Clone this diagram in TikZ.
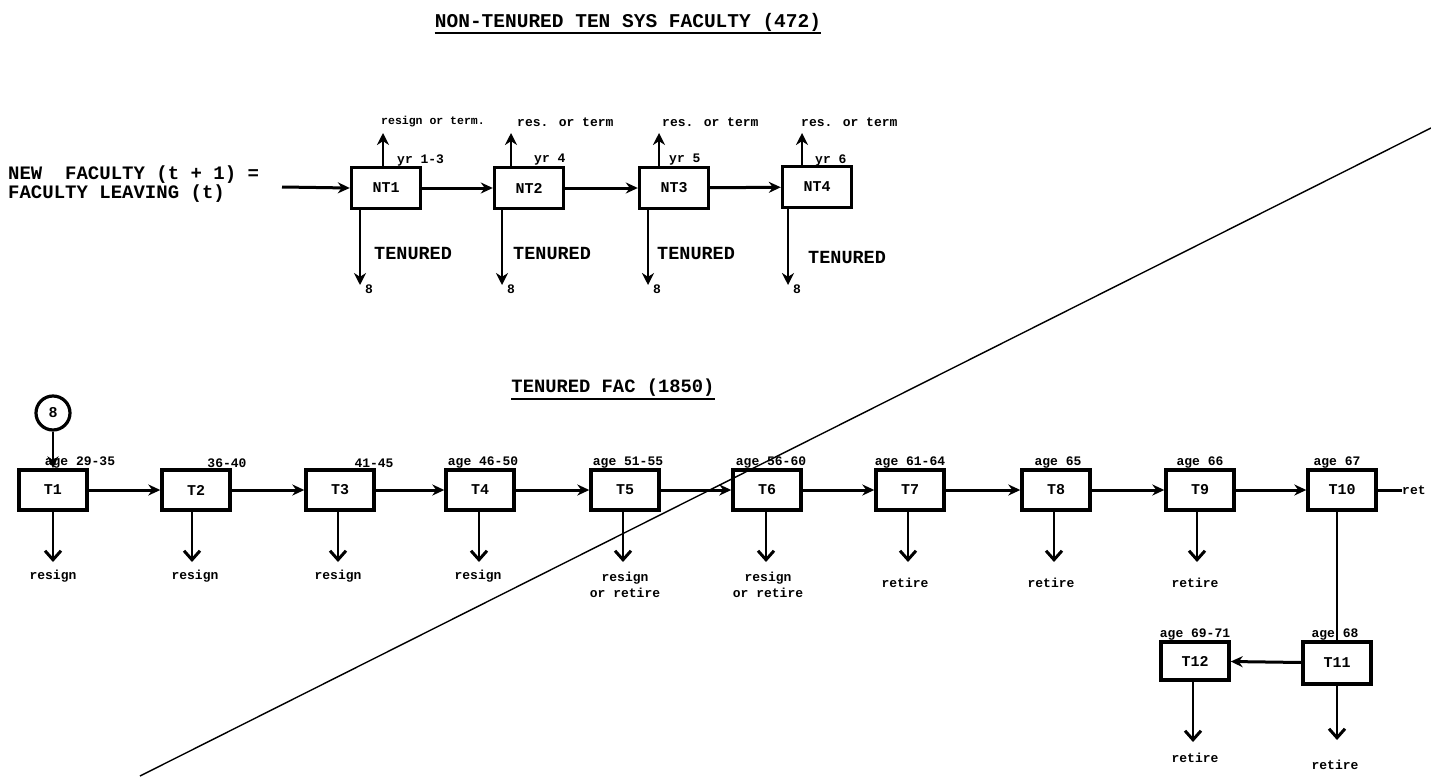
\documentclass[tikz,border=0pt]{standalone}
\usepackage{fontspec}
\usetikzlibrary{arrows.meta}
\newfontfamily\tw{Liberation Mono}
\newcommand\fsz[2]{\fontsize{#1}{#2}\selectfont}
\begin{document}
\begin{tikzpicture}[x=1pt,y=-1pt,
  box/.style={draw, line width=3.4pt, minimum width=68pt, minimum height=40pt, inner sep=0pt, font=\tw\bfseries\fsz{15}{15}},
  flow/.style={line width=3pt, -{Stealth[length=12pt,width=11pt]}},
  rise/.style={line width=2.8pt, -{Stealth[length=12pt,width=12pt]}},
  drop/.style={line width=2pt, -{Straight Barb[length=9pt,width=16pt,line width=3pt]}},
  big/.style={font=\tw\bfseries\fsz{19}{18.5}, inner sep=0pt},
  tenu/.style={font=\tw\bfseries\fsz{18.5}{18.5}, inner sep=0pt, anchor=west},
  small/.style={font=\tw\bfseries\fsz{13}{16}, inner sep=0pt},
  agel/.style={small, anchor=south},
  outl/.style={small, anchor=north, align=center},
]
\useasboundingbox (0,0) rectangle (1431,776);

% ---------- diagonal stroke ----------
\coordinate (dg1) at (140,776);
\coordinate (dg2) at (1431,128);
\draw[line width=1.4pt] (dg1) -- (dg2);

% ---------- non-tenured section ----------
\node[big, font=\tw\bfseries\fsz{19.5}{19.5}] (title1) at (628,22) {NON-TENURED TEN SYS FACULTY (472)};
\draw[line width=2pt] ([yshift=-2pt]title1.south west) -- ([yshift=-2pt]title1.south east);

\node[big, anchor=north west, align=left] (newf) at (8,166) {NEW\ \ FACULTY (t + 1) =\\FACULTY LEAVING (t)};
\coordinate (nfe) at (282,187);

\node[box, minimum width=69pt, minimum height=41pt] (NT1) at (386,188) {NT1};
\node[box, minimum width=69pt, minimum height=41pt] (NT2) at (529,188) {NT2};
\node[box, minimum width=69pt, minimum height=41pt] (NT3) at (674,188) {NT3};
\node[box, minimum width=69pt, minimum height=41pt] (NT4) at (817,187) {NT4};

\draw[flow] (nfe) -- (NT1.west);
\draw[flow] (NT1) -- (NT2);
\draw[flow] (NT2) -- (NT3);
\draw[flow] (NT3) -- (NT4);

% up arrows and labels
\coordinate (u1) at (383,133);
\coordinate (u2) at (511,133);
\coordinate (u3) at (659,133);
\coordinate (u4) at (802,133);
\draw[rise] (NT1.north -| u1) -- (u1);
\draw[rise] (NT2.north -| u2) -- (u2);
\draw[rise] (NT3.north -| u3) -- (u3);
\draw[rise] (NT4.north -| u4) -- (u4);
\node[small, anchor=west, font=\tw\bfseries\fsz{11.5}{11.5}] (ul1) at (381,122) {resign or term.};
\node[small, anchor=west] (ul2) at (517,122) {res. or term};
\node[small, anchor=west] (ul3) at (662,122) {res. or term};
\node[small, anchor=west] (ul4) at (801,122) {res. or term};

\node[small, anchor=west] (yr1) at (397,160) {yr 1-3};
\node[small, anchor=west] (yr2) at (534,160) {yr 4};
\node[small, anchor=west] (yr3) at (669,160) {yr 5};
\node[small, anchor=west] (yr4) at (815,160) {yr 6};

% down arrows (tenured)
\coordinate (d1) at (360,285);
\coordinate (d2) at (502,285);
\coordinate (d3) at (648,285);
\coordinate (d4) at (788,285);
\draw[rise] (NT1.south -| d1) -- (d1);
\draw[rise] (NT2.south -| d2) -- (d2);
\draw[rise] (NT3.south -| d3) -- (d3);
\draw[rise] (NT4.south -| d4) -- (d4);
\node[small, anchor=west, font=\tw\bfseries\fsz{13}{13}] (e1) at (365,289) {8};
\node[small, anchor=west, font=\tw\bfseries\fsz{13}{13}] (e2) at (507,289) {8};
\node[small, anchor=west, font=\tw\bfseries\fsz{13}{13}] (e3) at (653,289) {8};
\node[small, anchor=west, font=\tw\bfseries\fsz{13}{13}] (e4) at (793,289) {8};

\node[tenu] (ten1) at (374,253) {TENURED};
\node[tenu] (ten2) at (513,253) {TENURED};
\node[tenu] (ten3) at (657,253) {TENURED};
\node[tenu] (ten4) at (808,257) {TENURED};

% ---------- tenured section ----------
\node[big, font=\tw\bfseries\fsz{18.8}{18.8}] (title2) at (613,388) {TENURED FAC (1850)};
\draw[line width=2pt] ([yshift=-2pt]title2.south west) -- ([yshift=-2pt]title2.south east);

\node[circle, draw, line width=3.2pt, minimum size=34pt, inner sep=0pt, font=\tw\bfseries\fsz{15}{15}] (c8) at (53,413) {8};

\node[box] (T1) at (53,490) {T1};
\node[box] (T2) at (196,490) {T2};
\node[box] (T3) at (340,490) {T3};
\node[box] (T4) at (480,490) {T4};
\node[box] (T5) at (625,490) {T5};
\node[box] (T6) at (767,490) {T6};
\node[box] (T7) at (910,490) {T7};
\node[box] (T8) at (1056,490) {T8};
\node[box] (T9) at (1200,490) {T9};
\node[box] (T10) at (1342,490) {T10};
\node[box, minimum height=42pt] (T11) at (1337,663) {T11};
\node[box, minimum height=38pt] (T12) at (1195,661) {T12};

\draw[flow, line width=2.2pt] (c8) -- (T1);
\draw[flow] (T1) -- (T2);
\draw[flow] (T2) -- (T3);
\draw[flow] (T3) -- (T4);
\draw[flow] (T4) -- (T5);
\draw[flow] (T5) -- (T6);
\draw[flow] (T6) -- (T7);
\draw[flow] (T7) -- (T8);
\draw[flow] (T8) -- (T9);
\draw[flow] (T9) -- (T10);
\node[small, anchor=west] (ret) at (1402,490) {ret};
\draw[line width=3pt] (T10) -- (ret);
\draw[line width=2pt] (T10.south -| T11.north) -- (T11.north);
\draw[flow] (T11) -- (T12);

% age labels
\node[agel] (a1) at (80,468) {age 29-35};
\node[agel] (a2) at (227,468) {36-40};
\node[agel] (a3) at (374,468) {41-45};
\node[agel] (a4) at (483,468) {age 46-50};
\node[agel] (a5) at (628,468) {age 51-55};
\node[agel] (a6) at (771,468) {age 56-60};
\node[agel] (a7) at (910,468) {age 61-64};
\node[agel] (a8) at (1058,468) {age 65};
\node[agel] (a9) at (1200,468) {age 66};
\node[agel] (a10) at (1337,468) {age 67};
\node[agel] (a11) at (1335,640) {age 68};
\node[agel] (a12) at (1195,640) {age 69-71};

% exits
\coordinate (x1) at (53,562);
\coordinate (x2) at (192,562);
\coordinate (x3) at (338,562);
\coordinate (x4) at (479,562);
\coordinate (x5) at (623,562);
\coordinate (x6) at (766,562);
\coordinate (x7) at (908,562);
\coordinate (x8) at (1054,562);
\coordinate (x9) at (1197,562);
\coordinate (x11) at (1337,740);
\coordinate (x12) at (1193,742);
\draw[drop] (T1.south -| x1) -- (x1);
\draw[drop] (T2.south -| x2) -- (x2);
\draw[drop] (T3.south -| x3) -- (x3);
\draw[drop] (T4.south -| x4) -- (x4);
\draw[drop] (T5.south -| x5) -- (x5);
\draw[drop] (T6.south -| x6) -- (x6);
\draw[drop] (T7.south -| x7) -- (x7);
\draw[drop] (T8.south -| x8) -- (x8);
\draw[drop] (T9.south -| x9) -- (x9);
\draw[drop] (T11.south -| x11) -- (x11);
\draw[drop] (T12.south -| x12) -- (x12);

\node[outl] (o1) at (53,570) {resign};
\node[outl] (o2) at (195,570) {resign};
\node[outl] (o3) at (338,570) {resign};
\node[outl] (o4) at (478,570) {resign};
\node[outl] (o5) at (625,572) {resign\\or retire};
\node[outl] (o6) at (768,572) {resign\\or retire};
\node[outl] (o7) at (905,578) {retire};
\node[outl] (o8) at (1051,578) {retire};
\node[outl] (o9) at (1195,578) {retire};
\node[outl] (o11) at (1335,760) {retire};
\node[outl] (o12) at (1195,753) {retire};
\end{tikzpicture}
\end{document}
